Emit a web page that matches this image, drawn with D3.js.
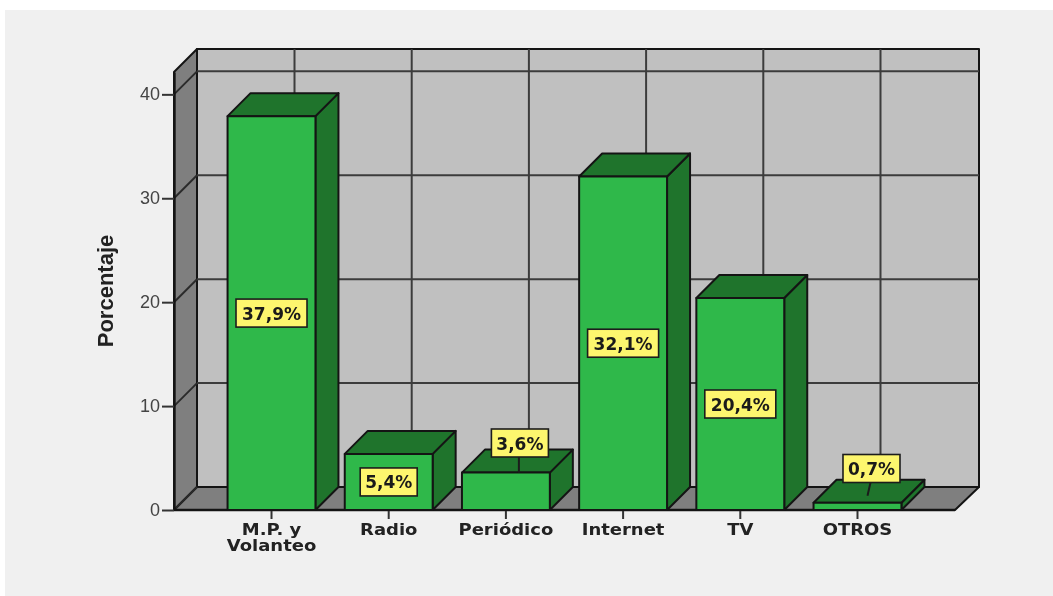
<!DOCTYPE html>
<html><head><meta charset="utf-8">
<script src="https://cdn.jsdelivr.net/npm/d3@7"></script>
<style>html,body{margin:0;padding:0;background:#fff}svg{display:block}</style></head>
<body><svg id="c" width="1053" height="596"></svg>
<script>
const categories = ["M.P. y|Volanteo","Radio","Periódico","Internet","TV","OTROS"];
const values = [37.9,5.4,3.6,32.1,20.4,0.7];
const labels = ["37,9%","5,4%","3,6%","32,1%","20,4%","0,7%"];
const yTicks = [0,10,20,30,40];
const depth=23;
const svg=d3.select("#c");
const root=svg.append("g").style("filter","blur(0.6px)");
svg.insert("rect","g").attr("x",5).attr("y",10).attr("width",1048).attr("height",586).attr("fill","#f0f0f0");
const y=d3.scaleLinear().domain([0,42.15]).range([510,72]);
const x=d3.scaleBand().domain(categories).range([174,955]).paddingInner(0.25).paddingOuter(0.457);
const L=174,R=955,T=y.range()[1],B=y.range()[0];
const line="#141414";
const poly=(pts,fill,sw=2)=>root.append("polygon").attr("points",pts.map(p=>p.join(",")).join(" ")).attr("fill",fill).attr("stroke",line).attr("stroke-width",sw).attr("stroke-linejoin","round");
const seg=(a,b,c,d,sw=2,col="#333")=>root.append("line").attr("x1",a).attr("y1",b).attr("x2",c).attr("y2",d).attr("stroke",col).attr("stroke-width",sw);
// walls
poly([[L+depth,T-depth],[R+depth+1,T-depth],[R+depth+1,B-depth],[L+depth,B-depth]],"#c0c0c0");
poly([[L,T],[L+depth,T-depth],[L+depth,B-depth],[L,B]],"#7f7f7f");
poly([[L,B],[L+depth,B-depth],[R+depth+1,B-depth],[R,B]],"#7f7f7f");
// grid
yTicks.forEach(t=>{ if(t>0) seg(L+depth,y(t)-depth,R+depth+1,y(t)-depth,2,"#3c3c3c"); seg(L,y(t),L+depth,y(t)-depth,2,"#2a2a2a");});
categories.forEach(c=>seg(x(c)+x.bandwidth()/2+depth,T-depth,x(c)+x.bandwidth()/2+depth,B-depth,2,"#3c3c3c"));
// axes
const gy=root.append("g").attr("transform",`translate(${L},0)`).call(d3.axisLeft(y).tickValues(yTicks).tickSizeInner(12).tickSizeOuter(0).tickPadding(2).tickFormat(d3.format("d")));
gy.select(".domain").attr("stroke",line).attr("stroke-width",2.4);
gy.selectAll(".tick line").attr("stroke","#333").attr("stroke-width",2);
gy.selectAll("text").attr("font-family","Liberation Sans").attr("font-size",18).attr("fill","#444").attr("dy","0.28em");
const gx=root.append("g").attr("transform",`translate(0,${B})`).call(d3.axisBottom(x).tickSizeInner(9).tickSizeOuter(0).tickFormat(""));
gx.select(".domain").attr("d",`M${L},0H${R}`).attr("stroke",line).attr("stroke-width",2.4);
gx.selectAll(".tick line").attr("stroke","#333").attr("stroke-width",2);
categories.forEach(c=>{
  const cx=x(c)+x.bandwidth()/2;
  const t=root.append("text").attr("transform",`translate(${cx},535) scale(1.2,1)`).attr("text-anchor","middle")
   .attr("font-family","DejaVu Sans").attr("font-weight","bold").attr("font-size",15).attr("fill","#222");
  c.split("|").forEach((s,i)=>t.append("tspan").attr("x",0).attr("dy",i?16.5:0).text(s));
});
root.append("text").attr("transform","translate(113,291) rotate(-90)").attr("text-anchor","middle")
 .attr("font-family","Liberation Sans").attr("font-weight","bold").attr("font-size",22).attr("fill","#222").text("Porcentaje");
// bars
categories.forEach((c,i)=>{
  const a=x(c),b=a+x.bandwidth(),t=y(values[i]);
  poly([[b,t],[b+depth,t-depth],[b+depth,B-depth],[b,B]],"#1f742c");
  poly([[a,t],[a+depth,t-depth],[b+depth,t-depth],[b,t]],"#1f742c");
  poly([[a,t],[b,t],[b,B],[a,B]],"#2fb84a");
});
// labels
categories.forEach((c,i)=>{
  const v=values[i], small=v<5;
  const cx=x(c)+x.bandwidth()/2+(small?14:0);
  const ly=small?(v>2?443:468.5):y(v/2);
  const w=labels[i].length>4?71:57,h=28;
  if(small) seg(cx-1,ly+h/2,v>2?cx-1:cx-4,v>2?y(v):y(v)-7,2,"#1c1c1c");
  root.append("rect").attr("x",cx-w/2).attr("y",ly-h/2).attr("width",w).attr("height",h).attr("fill","#fdf66e").attr("stroke","#1c1c1c").attr("stroke-width",1.6);
  root.append("text").attr("x",cx).attr("y",ly+6.5).attr("text-anchor","middle").attr("font-family","DejaVu Sans").attr("font-weight","bold").attr("font-size",17).attr("fill","#1a1a1a").text(labels[i]);
});
</script></body></html>
